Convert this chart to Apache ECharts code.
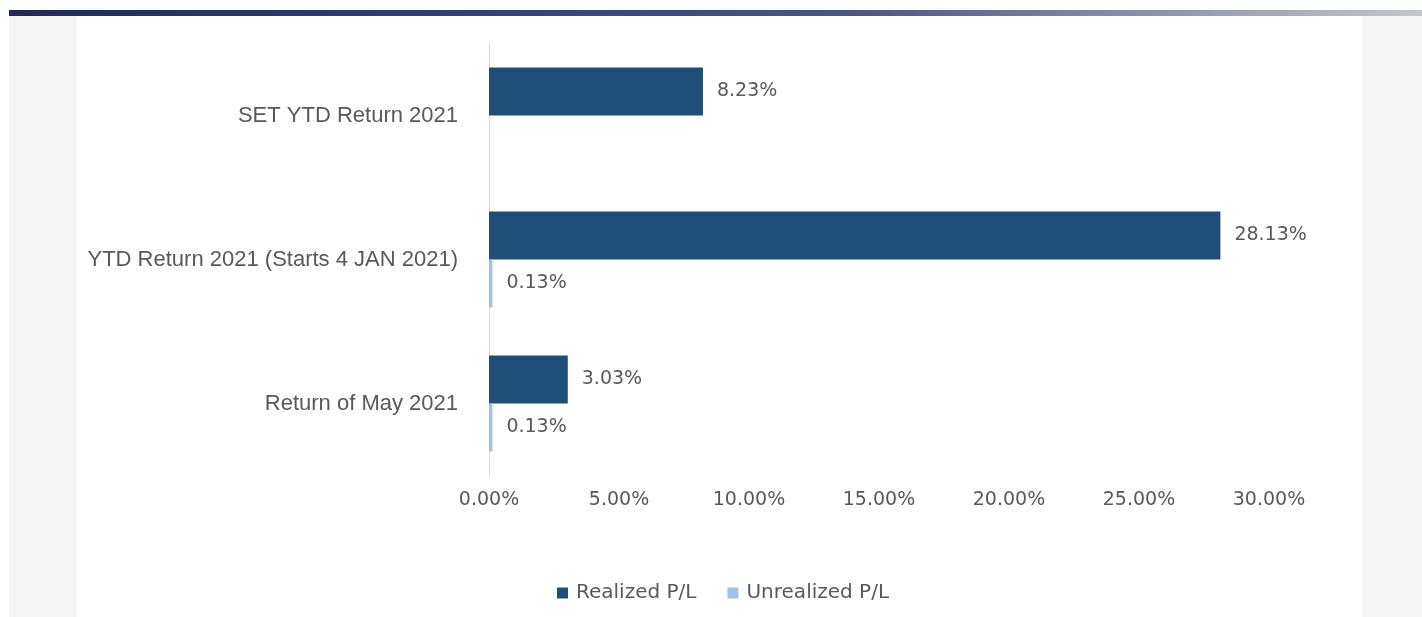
<!DOCTYPE html>
<html>
<head>
<meta charset="utf-8">
<script src="https://cdn.jsdelivr.net/npm/echarts@6/dist/echarts.min.js"></script>
<style>
  html, body { margin: 0; padding: 0; width: 1422px; height: 617px; overflow: hidden; background: #ffffff; }
  #topbar { position: absolute; left: 9px; top: 10px; width: 1413px; height: 6px;
    background: linear-gradient(to right, #1f2a5a 0%, #35427a 35%, #4a5586 60%, #8a90a8 80%, #c3c6ca 100%); }
  #lpanel { position: absolute; left: 9px; top: 16px; width: 68px; height: 601px; background: #f6f6f6; }
  #rpanel { position: absolute; left: 1362px; top: 16px; width: 60px; height: 601px; background: #f6f6f6; }
  #chart { position: absolute; left: 0; top: 0; width: 1422px; height: 617px; }
</style>
</head>
<body>
<div id="topbar"></div>
<div id="lpanel"></div>
<div id="rpanel"></div>
<div id="chart"></div>
<script>
const categories = ['SET YTD Return 2021', 'YTD Return 2021 (Starts 4 JAN 2021)', 'Return of May 2021'];
const realized = [8.23, 28.13, 3.03];
const unrealized = [null, 0.13, 0.13];
const seriesNames = ['Realized P/L', 'Unrealized P/L'];
const xTicks = { min: 0, max: 30, interval: 5 };

const chart = echarts.init(document.getElementById('chart'), null, { renderer: 'canvas' });
const labelStyle = {
  show: true, position: 'right', distance: 14,
  color: '#595959', fontSize: 19, fontFamily: 'DejaVu Sans',
  formatter: p => p.value.toFixed(2) + '%'
};
chart.setOption({
  animation: false,
  backgroundColor: 'transparent',
  grid: { left: 489, right: 153, top: 43.5, height: 432, containLabel: false },
  legend: {
    data: seriesNames,
    left: 557, top: 583, padding: 0,
    itemWidth: 11, itemHeight: 11, itemGap: 31,
    icon: 'rect',
    textStyle: { color: '#595959', fontSize: 20, fontFamily: 'DejaVu Sans', padding: [0, 0, 0, 3] }
  },
  xAxis: {
    type: 'value', min: xTicks.min, max: xTicks.max, interval: xTicks.interval,
    axisLine: { show: false }, axisTick: { show: false }, splitLine: { show: false },
    axisLabel: { color: '#595959', fontSize: 19, fontFamily: 'DejaVu Sans', margin: 15,
      formatter: v => v.toFixed(2) + '%' }
  },
  yAxis: {
    type: 'category', data: categories, inverse: true,
    axisLine: { show: true, lineStyle: { color: '#d9d9d9', width: 1 } },
    axisTick: { show: false },
    axisLabel: { color: '#595959', fontSize: 22, fontFamily: 'Liberation Sans', margin: 31 }
  },
  series: [
    { name: seriesNames[0], type: 'bar', data: realized, barWidth: 48, barGap: '0%',
      itemStyle: { color: '#1f4e79' }, label: labelStyle },
    { name: seriesNames[1], type: 'bar', data: unrealized, barWidth: 48, barGap: '0%',
      itemStyle: { color: '#9dc3e6' }, label: labelStyle }
  ]
});
</script>
</body>
</html>
